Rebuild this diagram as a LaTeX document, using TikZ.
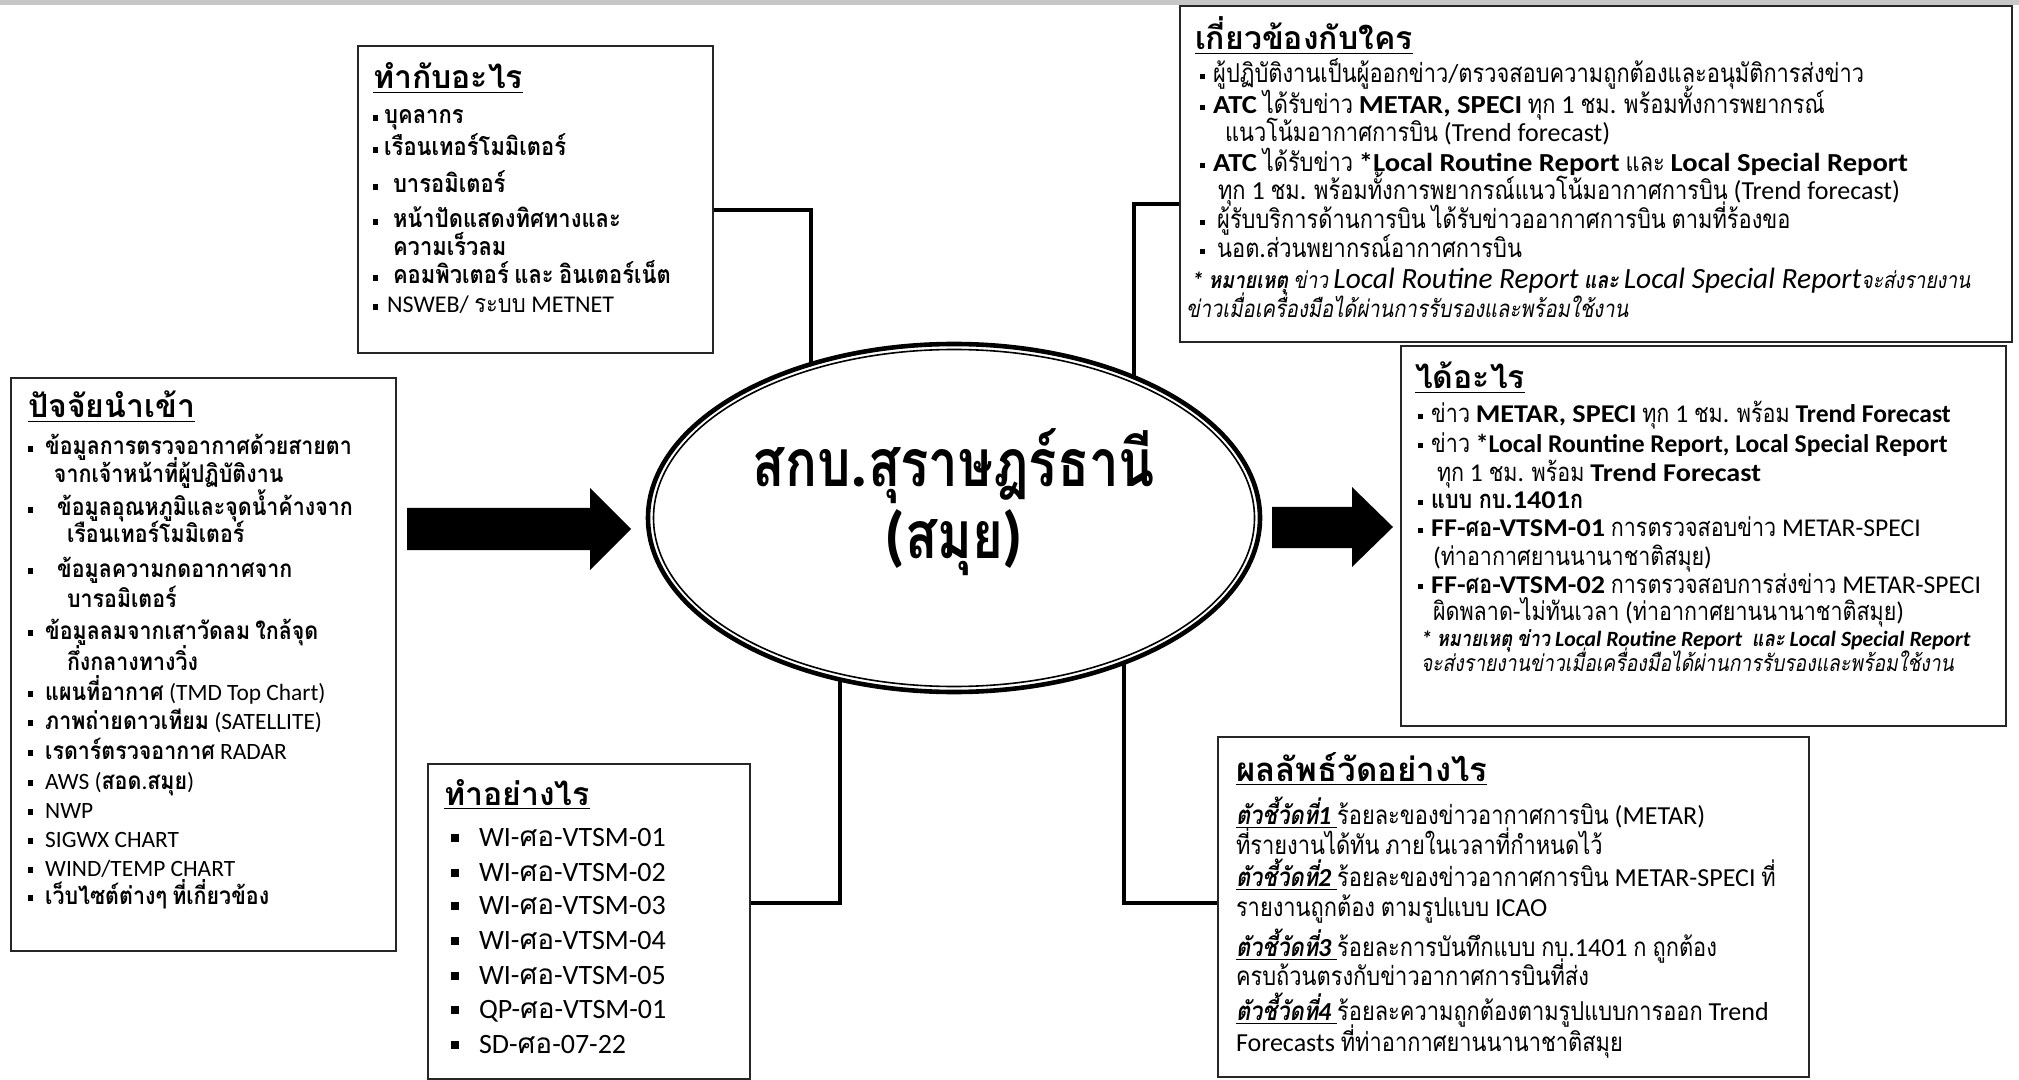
\documentclass[tikz,border=0pt]{standalone}
\usepackage{fontspec}
\setmainfont{Carlito}
\newfontfamily\latinfont{Carlito}
\newfontfamily\latwide[FakeStretch=1.1]{Carlito}
\newfontfamily\thaifont[Script=Thai]{Loma}
\newfontfamily\thainarrow[Script=Thai,FakeStretch=0.84]{Loma}
\newfontfamily\thaicond[Script=Thai,FakeStretch=0.88,Scale=1.04]{Loma}
\newfontfamily\thaititle[Script=Thai,FakeStretch=0.8]{Loma}
\usetikzlibrary{shapes.geometric,backgrounds}
\makeatletter
\count@="0E00
\loop\ifnum\count@<"0E80 \XeTeXcharclass\count@=7 \advance\count@\@ne\repeat
\makeatother
\newcommand\thaisel{\thaifont}
\newcommand\latsel{\latinfont}
\XeTeXinterchartoks 0 7 = {\thaisel}
\XeTeXinterchartoks 4095 7 = {\thaisel}
\XeTeXinterchartoks 7 0 = {\latsel}
\XeTeXinterchartoks 7 4095 = {\latsel}
\XeTeXinterchartokenstate=1
\newcommand\sq[1][4pt]{\rule[0.3ex]{2.6pt}{2.6pt}\hspace{#1}}
\newcommand\bsq{\rule[0.3ex]{4pt}{4pt}\hspace{10pt}}
\newcommand\BW[1]{{\bfseries\def\latsel{\latwide}\latwide #1}}
\newcount\lnc
\newcommand\TL[2]{\global\advance\lnc by 1 \node[tl] (ln\the\lnc) at (#1) {#2};}
\tikzset{
  box/.style={draw=black!85, line width=1pt, anchor=north west, inner sep=0pt, fill=white},
  tl/.style={anchor=base west, inner sep=0pt, outer sep=0pt},
  conn/.style={draw=black, line width=1.6pt},
  blockarrow/.style={fill=black},
  titlefont/.style={anchor=base, inner sep=0pt, font={\fontsize{33}{36}\selectfont\bfseries\def\thaisel{\thaititle}}},
}
\begin{document}
\begin{tikzpicture}[x=0.5pt,y=-0.5pt]
\useasboundingbox (0,0) rectangle (2019,1080);
\fill[black!22] (0,0) rectangle (2019,5);

% boxes
\node[box, minimum width=177.5pt, minimum height=153.5pt] (b1) at (357,45) {};
\node[box, minimum width=416pt, minimum height=168pt] (b2) at (1179,5) {};
\node[box, minimum width=192.5pt, minimum height=286.5pt] (b3) at (10,377) {};
\node[box, minimum width=302.5pt, minimum height=190pt] (b4) at (1400,345) {};
\node[box, minimum width=161pt, minimum height=157.5pt] (b5) at (427,763) {};
\node[box, minimum width=295.5pt, minimum height=170pt] (b6) at (1217,736) {};

% central ellipse
\node[ellipse, draw, line width=2.3pt, fill=white, minimum width=306pt, minimum height=174pt, inner sep=0pt] (ell) at (954,518) {};
\node[ellipse, draw, line width=0.8pt, minimum width=300.5pt, minimum height=168.5pt, inner sep=0pt] (ellin) at (ell.center) {};
\node[titlefont] (title) at (954,487) {\begin{tabular}[t]{@{}c@{}}สกบ.สุราษฎร์ธานี\\(สมุย)\end{tabular}};

% connectors
\coordinate (k1) at (811,210);
\coordinate (k2) at (1134,204);
\coordinate (k3) at (840,903);
\coordinate (k4) at (1124,903);
\begin{scope}[on background layer]
\draw[conn] (k1 -| b1.east) -- (k1) -- (k1 |- ell.center);
\draw[conn] (k2 -| b2.west) -- (k2) -- (k2 |- ell.center);
\draw[conn] (k3 -| b5.east) -- (k3) -- (k3 |- ell.center);
\draw[conn] (k4 -| b6.west) -- (k4) -- (k4 |- ell.center);
\end{scope}

% block arrows
\coordinate (la) at (407,529);
\coordinate (ra) at (1272,528);
\fill[blockarrow] (la) ++(0,-21) -- ++(183,0) -- ++(0,-20) -- ++(41,41) -- ++(-41,41) -- ++(0,-20) -- ++(-183,0) -- cycle;
\fill[blockarrow] (ra) ++(0,-21) -- ++(80,0) -- ++(0,-20) -- ++(41,40) -- ++(-41,40) -- ++(0,-19) -- ++(-80,0) -- cycle;

% box 1: ทำกับอะไร
\begin{scope}[font={\fontsize{12}{14}\selectfont\def\thaisel{\thaicond\bfseries}\def\latsel{\latinfont\mdseries}}]
\TL{373,89}{\fontsize{16}{18}\selectfont\bfseries\def\thaisel{\thaifont\bfseries}\underline{ทำกับอะไร}}
\TL{373,124}{\sq[3pt]บุคลากร}
\TL{373,156}{\sq[3pt]เรือนเทอร์โมมิเตอร์}
\TL{373,193}{\sq[7.4pt]บารอมิเตอร์}
\TL{373,228}{\sq[7.4pt]หน้าปัดแสดงทิศทางและ}
\TL{393,256}{ความเร็วลม}
\TL{373,284}{\sq[7.4pt]คอมพิวเตอร์ และ อินเตอร์เน็ต}
\TL{373,313}{\def\thaisel{\thaicond\mdseries}\sq[4.5pt]NSWEB/ ระบบ METNET}
\end{scope}

% box 2: เกี่ยวข้องกับใคร
\begin{scope}[font={\fontsize{13}{15}\selectfont\def\thaisel{\thainarrow}}]
\TL{1195,50}{\fontsize{16}{18}\selectfont\bfseries\def\thaisel{\thaifont}\underline{เกี่ยวข้องกับใคร}}
\TL{1200,83}{\sq ผู้ปฏิบัติงานเป็นผู้ออกข่าว/ตรวจสอบความถูกต้องและอนุมัติการส่งข่าว}
\TL{1200,114}{\sq\BW{ATC} ได้รับข่าว \BW{METAR, SPECI} ทุก 1 ชม. พร้อมทั้งการพยากรณ์}
\TL{1225,142}{แนวโน้มอากาศการบิน (Trend forecast)}
\TL{1200,172}{\sq\BW{ATC} ได้รับข่าว \BW{*Local Routine Report} และ \BW{Local Special Report}}
\TL{1218,200}{ทุก 1 ชม. พร้อมทั้งการพยากรณ์แนวโน้มอากาศการบิน (Trend forecast)}
\TL{1200,229}{\sq[6pt]ผู้รับบริการด้านการบิน ได้รับข่าวออากาศการบิน ตามที่ร้องขอ}
\TL{1200,258}{\sq[6pt]นอต.ส่วนพยากรณ์อากาศการบิน}
\TL{1192,289}{\itshape\fontsize{11.5}{13}\selectfont\textbf{* หมายเหตุ} ข่าว {\fontsize{14.7}{16}\selectfont Local Routine Report} \textbf{และ} {\fontsize{14.7}{16}\selectfont Local Special Report}จะส่งรายงาน}
\TL{1186,318}{\itshape\fontsize{12}{13}\selectfont ข่าวเมื่อเครื่องมือได้ผ่านการรับรองและพร้อมใช้งาน}
\end{scope}

% box 3: ปัจจัยนำเข้า
\begin{scope}[font={\fontsize{11.7}{14}\selectfont\def\thaisel{\thaicond\bfseries}\def\latsel{\latinfont\mdseries}}]
\TL{28,418}{\fontsize{16}{18}\selectfont\bfseries\def\thaisel{\thaifont\bfseries}\underline{ปัจจัยนำเข้า}}
\TL{28,455}{\sq[6pt]ข้อมูลการตรวจอากาศด้วยสายตา}
\TL{54,482}{จากเจ้าหน้าที่ผู้ปฏิบัติงาน}
\TL{28,516}{\sq[12pt]ข้อมูลอุณหภูมิและจุดน้ำค้างจาก}
\TL{67,543}{เรือนเทอร์โมมิเตอร์}
\TL{28,577}{\sq[12pt]ข้อมูลความกดอากาศจาก}
\TL{67,607}{บารอมิเตอร์}
\TL{28,639}{\sq[6pt]ข้อมูลลมจากเสาวัดลม ใกล้จุด}
\TL{67,670}{กึ่งกลางทางวิ่ง}
\TL{28,700}{\sq[6pt]แผนที่อากาศ (TMD Top Chart)}
\TL{28,729}{\sq[6pt]ภาพถ่ายดาวเทียม (SATELLITE)}
\TL{28,759}{\sq[6pt]เรดาร์ตรวจอากาศ RADAR}
\TL{28,789}{\sq[6pt]AWS (สอด.สมุย)}
\TL{28,818}{\sq[6pt]NWP}
\TL{28,847}{\sq[6pt]SIGWX CHART}
\TL{28,876}{\sq[6pt]WIND/TEMP CHART}
\TL{28,904}{\sq[6pt]เว็บไซต์ต่างๆ ที่เกี่ยวข้อง}
\end{scope}

% box 4: ได้อะไร
\begin{scope}[font={\fontsize{12.8}{14}\selectfont\def\thaisel{\thainarrow}}]
\TL{1415,389}{\fontsize{16}{18}\selectfont\bfseries\def\thaisel{\thaifont}\underline{ได้อะไร}}
\TL{1418,423}{\sq ข่าว \BW{METAR, SPECI} ทุก 1 ชม. พร้อม \textbf{Trend Forecast}}
\TL{1418,452}{\sq ข่าว \textbf{*Local Rountine Report, Local Special Report}}
\TL{1437,481}{ทุก 1 ชม. พร้อม \BW{Trend Forecast}}
\TL{1418,509}{\sq\BW{แบบ กบ.1401ก}}
\TL{1418,537}{\sq\BW{FF-ศอ-VTSM-01} การตรวจสอบข่าว METAR-SPECI}
\TL{1433,566}{(ท่าอากาศยานนานาชาติสมุย)}
\TL{1418,593}{\sq\BW{FF-ศอ-VTSM-02} การตรวจสอบการส่งข่าว METAR-SPECI}
\TL{1433,620}{ผิดพลาด-ไม่ทันเวลา (ท่าอากาศยานนานาชาติสมุย)}
\TL{1421,646}{\itshape\bfseries\fontsize{10.9}{12}\selectfont * หมายเหตุ ข่าว Local Routine Report\ \ และ Local Special Report}
\TL{1421,671}{\itshape\fontsize{11.5}{12}\selectfont จะส่งรายงานข่าวเมื่อเครื่องมือได้ผ่านการรับรองและพร้อมใช้งาน}
\end{scope}

% box 5: ทำอย่างไร
\begin{scope}[font={\fontsize{14}{16}\selectfont}]
\TL{444,805}{\fontsize{16}{18}\selectfont\bfseries\underline{ทำอย่างไร}}
\TL{451,846}{\bsq WI-ศอ-VTSM-01}
\TL{451,881}{\bsq WI-ศอ-VTSM-02}
\TL{451,914}{\bsq WI-ศอ-VTSM-03}
\TL{451,949}{\bsq WI-ศอ-VTSM-04}
\TL{451,984}{\bsq WI-ศอ-VTSM-05}
\TL{451,1018}{\bsq QP-ศอ-VTSM-01}
\TL{451,1053}{\bsq SD-ศอ-07-22}
\end{scope}

% box 6: ผลลัพธ์วัดอย่างไร
\begin{scope}[font={\fontsize{13}{15}\selectfont\def\thaisel{\thainarrow}}]
\TL{1236,781}{\fontsize{16.5}{18}\selectfont\bfseries\def\thaisel{\thaifont}\underline{ผลลัพธ์วัดอย่างไร}}
\TL{1236,824}{\underline{\bfseries\itshape ตัวชี้วัดที่1\ }ร้อยละของข่าวอากาศการบิน (METAR)}
\TL{1236,854}{ที่รายงานได้ทัน ภายในเวลาที่กำหนดไว้}
\TL{1236,886}{\underline{\bfseries\itshape ตัวชี้วัดที่2\ }ร้อยละของข่าวอากาศการบิน METAR-SPECI ที่}
\TL{1236,916}{รายงานถูกต้อง ตามรูปแบบ ICAO}
\TL{1236,956}{\underline{\bfseries\itshape ตัวชี้วัดที่3\ }ร้อยละการบันทึกแบบ กบ.1401 ก ถูกต้อง}
\TL{1236,985}{ครบถ้วนตรงกับข่าวอากาศการบินที่ส่ง}
\TL{1236,1020}{\underline{\bfseries\itshape ตัวชี้วัดที่4\ }ร้อยละความถูกต้องตามรูปแบบการออก Trend}
\TL{1236,1051}{Forecasts ที่ท่าอากาศยานนานาชาติสมุย}
\end{scope}
\end{tikzpicture}
\end{document}
